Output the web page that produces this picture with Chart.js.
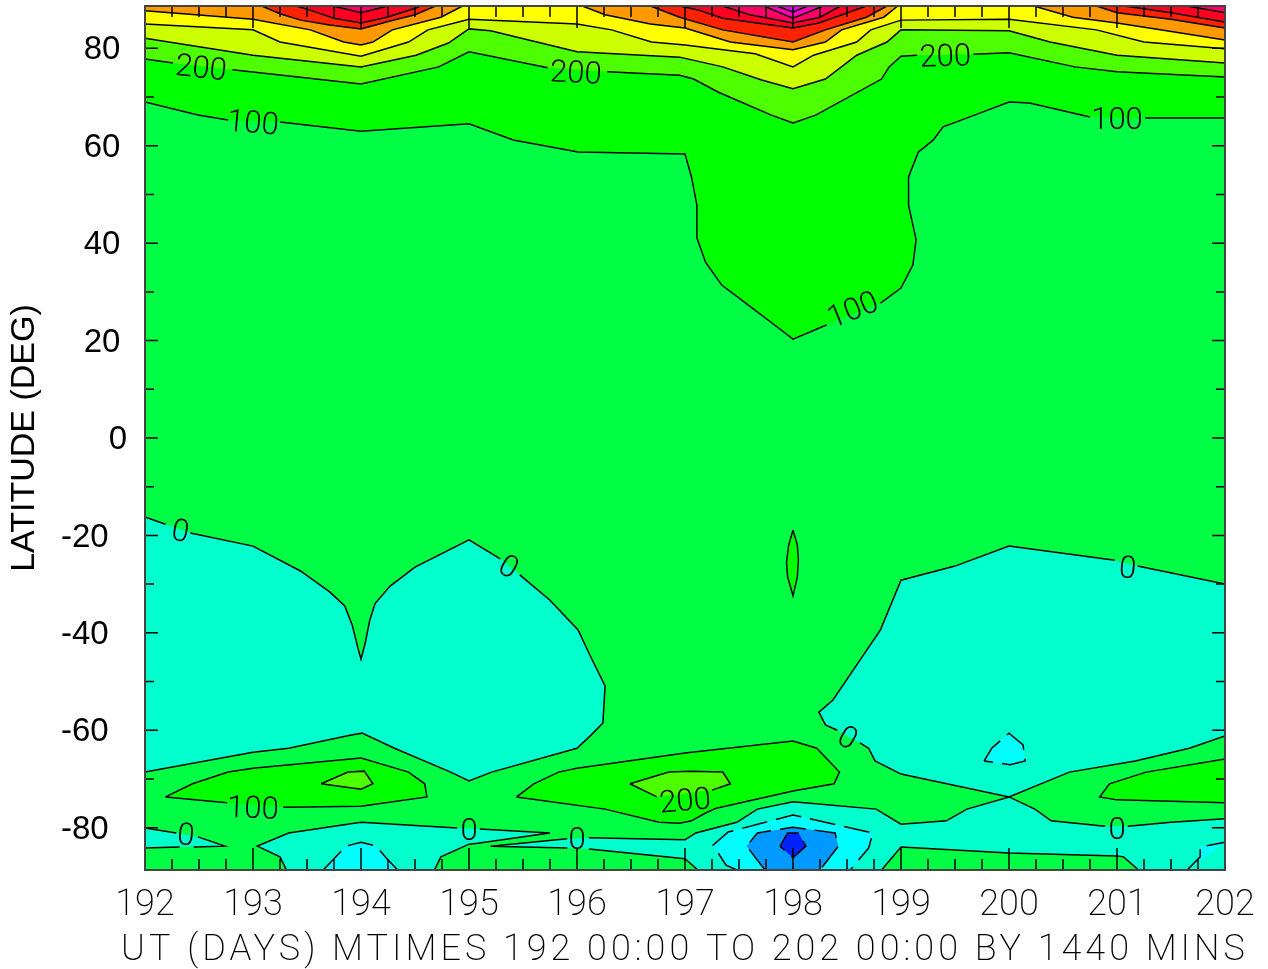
<!DOCTYPE html>
<html>
<head>
<meta charset="utf-8">
<style>
  html, body { margin: 0; padding: 0; background: #fff; }
  canvas { display: block; }
</style>
<script src="https://cdn.jsdelivr.net/npm/chart.js@4"></script>
</head>
<body>
<canvas id="chart" width="1268" height="969"></canvas>
<script>
// axis values
const dayTicks = [192, 193, 194, 195, 196, 197, 198, 199, 200, 201, 202];
const dayMinorTicks = [];
for (let i = 0; i <= 40; i++) dayMinorTicks.push(192 + i / 4);
const latTicks = [-80, -60, -40, -20, 0, 20, 40, 60, 80];
const latMinorTicks = [-70, -50, -30, -10, 10, 30, 50, 70];
const latMax = 88.7;
const xTitle = 'UT (DAYS) MTIMES 192 00:00 TO 202 00:00 BY 1440 MINS';
const yTitle = 'LATITUDE (DEG)';

// contours as [day, lat]; null = break in the line for a label
const north100 = [[192,69.0],[192.49,66.3],[192.77,65.3],null,[193.25,64.9],[194,63.0],[195,64.5],[195.41,61.2],[196.01,58.7],[197,58.3],[197.06,53.6],[197.11,47.8],[197.11,41.1],[197.19,36.1],[197.34,31.4],[197.62,26.7],[197.83,23.2],[198,20.3],[198.31,23.2],null,[198.81,27.7],[199,30.8],[199.11,35.5],[199.14,40.7],[199.07,47.8],[199.07,53.6],[199.16,58.7],[199.30,61.2],[199.39,63.9],[199.73,66.7],[200,69.0],[200.19,68.8],[200.75,65.9],null,[201.26,65.7],[202,65.7]];
const north200 = [[192,77.8],[192.26,77.0],null,[192.81,75.6],[194,72.7],[194.72,76.2],[195,79.3],[195.73,76.0],null,[196.28,75.2],[196.95,74.5],[197.08,73.7],[197.31,71.0],[197.8,66.3],[198,64.7],[198.21,66.3],[198.82,73.7],[198.89,76.2],[199,78.4],[199.15,78.6],null,[199.67,78.8],[200,79.1],[200.61,76.2],[201,75.2],[202,74.1]];
const north300 = [[192,82.1],[193,78.6],[194,76.2],[194.51,78.6],[194.81,81.1],[195,84.0],[195.2,83.6],[196,79.3],[196.95,78.2],[197.35,76.2],[197.71,73.5],[198,71.7],[198.3,73.7],[198.59,78.6],[198.87,81.3],[199,83.8],[200,83.6],[200.38,81.3],[201,78.6],[202,77.0]];
const north400 = [[192,85.0],[193,83.8],[193.25,81.3],[194,78.4],[194.44,81.3],[194.62,83.8],[195,86.0],[196,85.0],[196.32,83.8],[196.69,81.3],[197,80.7],[197.65,78.9],[198,76.2],[198.19,78.6],[198.59,81.3],[198.72,83.8],[199,85.8],[200,86.0],[200.81,83.8],[201.25,81.3],[202,79.9]];
const north500a = [[192,87.7],[193,86.0],[193.53,83.8],[193.84,81.3],[194,80.7],[194.11,81.3],[194.29,83.8],[194.74,86.4],[194.94,88.7]];
const north500b = [[196.05,88.7],[196.26,86.9],[196.68,85.0],[197,84.2],[197.42,81.3],[198,79.7],[198.3,81.3],[198.45,83.8],[198.84,86.4],[198.97,88.7]];
const north500c = [[200.23,88.7],[200.59,86.4],[201,85.2],[201.4,83.8],[202,81.7]];
const north600a = [[193.08,88.7],[193.25,87.1],[193.44,85.8],[193.71,84.8],[194,84.0],[194.27,85.6],[194.5,86.9],[194.69,88.7]];
const north600b = [[196.68,88.7],[196.95,86.4],[197.35,83.8],[198,81.3],[198.3,83.8],[198.68,86.4],[198.87,88.7]];
const north600c = [[200.81,88.7],[201,87.3],[201.5,86.0],[202,84.2]];
const north700a = [[193.4,88.7],[193.52,87.9],[193.75,86.2],[194,85.2],[194.24,86.4],[194.51,88.3],[194.55,88.7]];
const north700b = [[196.95,88.7],[197.12,87.9],[197.35,86.2],[198,84.2],[198.24,85.2],[198.68,88.7]];
const north700c = [[201.07,88.7],[201.5,87.3],[202,85.4]];
const north800a = [[193.74,88.7],[194,87.3],[194.25,88.7]];
const north800b = [[197.35,88.7],[197.6,86.9],[198,85.2],[198.25,86.4],[198.44,88.7]];
const north800c = [[201.65,88.7],[202,87.3]];
const north900 = [[197.73,88.7],[198,86.2],[198.28,88.7]];
const north1000 = [[197.85,88.7],[198,87.5],[198.14,88.7]];

const sliver100 = [[198,-18.9],[197.96,-22.0],[197.94,-25.5],[197.95,-28.5],[198,-32.4],[198.04,-28.5],[198.05,-25.0],[198.04,-22.0],[198,-18.9]];

const zeroWest = [[192,-16.2],[192.19,-17.7],null,[192.42,-19.5],[193,-22.2],[193.44,-27.3],[193.71,-31.6],[193.85,-34.5],[193.92,-38.5],[193.97,-43.0],[194,-45.4],[194.04,-42.0],[194.08,-37.5],[194.13,-34.0],[194.27,-30.4],[194.5,-26.5],[195,-20.9],[195.29,-24.8],null,[195.47,-28.1],[195.75,-33.3],[196.01,-39.4],[196.12,-44.6],[196.26,-50.9],[196.24,-58.5],[196.13,-61.0],[196,-63.7],[195.21,-68.6],[195,-70.4],[194.83,-68.6],[194.31,-63.7],[194.01,-60.6],[193.91,-61.0],[193.33,-63.7],[193,-64.5],[192,-68.6]];
const zeroEast = [[202,-30.0],[201.19,-26.3],null,[200.98,-25.1],[200,-22.2],[199.5,-26.3],[199,-29.2],[198.81,-39.4],[198.62,-45.6],[198.37,-53.8],[198.24,-56.3],[198.3,-58.9],[198.41,-60.0],null,[198.62,-62.6],[198.7,-63.7],[198.76,-66.3],[199,-69.0],[200,-73.7],[200.56,-68.6],[201.17,-66.3],[201.67,-63.7],[202,-61.2]];
const zeroEdge = [[192,-80.1],[192.29,-81.1],null,[192.49,-81.9],[192.74,-83.8],[192.45,-84.0],null,[192.32,-84.0],[192,-84.2]];
const zeroLow194 = [[193.31,-88.7],[193.25,-86.0],[193.04,-83.8],[193.33,-81.1],[194,-78.9],[194.89,-80.1],null,[195.1,-80.3],[195.75,-81.1],[195.08,-83.2],[195,-83.4],[194.74,-86.0],[194.68,-88.7]];
const zeroLowEast = [[197.12,-88.7],[197,-86.4],[196.11,-84.4],null,[195.91,-84.2],[195.2,-83.8],[195.91,-82.3],null,[196.11,-82.1],[197,-82.5],[197.1,-81.1],[197.48,-78.9],[197.67,-76.2],[198,-74.7],[198.77,-76.2],[199,-79.3],[199.42,-78.6],[199.61,-76.2],[200,-73.7],[200.24,-76.2],[200.39,-78.6],[200.89,-79.7],null,[201.1,-79.7],[201.5,-78.9],[202,-78.2]];
const zeroIsland = [[198.82,-88.7],[199,-84.0],[200,-85.2],[201,-85.8],[201.06,-86.0],[201.2,-88.7]];

const band100West = [[192.19,-73.7],[192.44,-71.0],[192.77,-68.6],[193,-67.8],[194,-65.7],[194.44,-68.6],[194.59,-71.0],[194.61,-73.7],[194,-75.6],[193.28,-75.8],null,[192.76,-74.9],[192.19,-73.7]];
const band200West = [[193.63,-71.0],[193.88,-68.6],[194.03,-68.4],[194.11,-71.0],[194,-72.1],[193.63,-71.0]];
const band100Mid = [[195.44,-73.7],[195.6,-71.0],[195.83,-68.6],[196,-67.8],[197,-64.7],[198,-62.2],[198.22,-63.7],[198.43,-68.6],[198.38,-71.0],[198,-72.5],[197.29,-76.0],[197.19,-77.0],[197.06,-78.6],[196.95,-79.1],[196.76,-78.9],[196.26,-76.2],[195.44,-73.7]];
const band200Mid = [[196.49,-71.0],[196.85,-68.6],[197.05,-68.4],[197.35,-68.6],[197.42,-71.0],[197.25,-72.3],null,[196.74,-73.7],[196.49,-71.0]];
const band100East = [[202,-65.9],[201.27,-68.6],[200.93,-71.0],[200.84,-73.7],[201,-74.3],[202,-74.9]];

const neg100At194 = [[193.65,-88.7],[193.75,-86.4],[193.86,-83.8],[194,-83.0],[194.14,-83.8],[194.24,-86.4],[194.34,-88.7]];
const neg100At200 = [[199.77,-66.3],[199.84,-63.7],[200,-60.6],[200.13,-63.0],[200.15,-66.3],[200.01,-67.1],[199.77,-66.3]];
const neg100Edge = [[201.65,-88.7],[201.77,-86.0],[201.77,-84.0],[202,-83.0]];
const neg100At198 = [[197.48,-88.7],[197.38,-87.7],[197.26,-83.6],[197.4,-80.9],[198,-77.4],[198.74,-81.1],[198.7,-84.2],[198.53,-88.7]];
const neg200At198 = [[197.74,-88.7],[197.57,-83.8],[197.67,-81.1],[198,-79.9],[198.39,-81.1],[198.42,-83.8],[198.25,-88.7]];
const neg300At198 = [[197.88,-83.8],[197.95,-81.1],[198.05,-81.1],[198.12,-83.8],[198,-86.2],[197.88,-83.8]];

// labels on the contours
const labelTexts = ['200', '200', '200', '100', '100', '100', '0', '0', '0', '0', '0', '0', '0', '0', '100', '200'];
const labelDays = [192.52, 195.99, 199.41, 193, 201, 198.55, 192.33, 195.37, 201.1, 198.51, 192.38, 195, 196, 201, 193, 197.0];
const labelLats = [76.2, 75.2, 78.6, 64.9, 65.7, 26.5, -18.9, -26.3, -26.5, -61.4, -81.3, -80.3, -82.1, -80.1, -75.8, -74.3];
const labelAngles = [6, 3, -2, 5, 0, -22, 10, 30, 5, 30, 5, 0, 0, 0, 2, -5];

const colors = {
  base: '#00ff44', neg: '#00ffcc', neg2: '#00ffff', neg3: '#0099ff', neg4: '#0022ff',
  p100: '#00ff00', p200: '#4dff00', p300: '#ccff00', p400: '#ffff00', p500: '#ff9900',
  p600: '#ff2200', p700: '#ff0022', p800: '#ff0066', p900: '#ff00bb', p1000: '#ee00ee'
};

// [points, colour, edge to close the fill along, dashed]
const layers = [
  [north100, colors.p100, latMax], [north200, colors.p200, latMax], [north300, colors.p300, latMax],
  [north400, colors.p400, latMax], [north500a, colors.p500, latMax], [north500b, colors.p500, latMax],
  [north500c, colors.p500, latMax], [north600a, colors.p600, latMax], [north600b, colors.p600, latMax],
  [north600c, colors.p600, latMax], [north700a, colors.p700, latMax], [north700b, colors.p700, latMax],
  [north700c, colors.p700, latMax], [north800a, colors.p800, latMax], [north800b, colors.p800, latMax],
  [north800c, colors.p800, latMax], [north900, colors.p900, latMax], [north1000, colors.p1000, latMax],
  [sliver100, colors.p100],
  [zeroWest, colors.neg], [zeroEast, colors.neg], [zeroEdge, colors.neg],
  [zeroLow194, colors.neg], [zeroLowEast, colors.neg, -latMax], [zeroIsland, colors.base],
  [band100West, colors.p100], [band200West, colors.p200], [band100Mid, colors.p100],
  [band200Mid, colors.p200], [band100East, colors.p100],
  [neg100At194, colors.neg2, null, true], [neg100At200, colors.neg2, null, true],
  [neg100Edge, colors.neg2, null, true], [neg100At198, colors.neg2, null, true],
  [neg200At198, colors.neg3, null, true], [neg300At198, colors.neg4, null, true]
];

const toXY = p => p ? { x: p[0], y: p[1] } : { x: null, y: null };

const fillSets = [{
  data: [[192, -latMax], [202, -latMax], [202, latMax], [192, latMax]].map(toXY),
  backgroundColor: colors.base
}];
const lineSets = [];
layers.forEach(([points, color, edge, dashed]) => {
  const outline = points.filter(Boolean);
  if (edge) {
    const first = outline[0], last = outline[outline.length - 1];
    outline.push([last[0], edge], [first[0], edge]);
  }
  fillSets.push({ data: outline.map(toXY), backgroundColor: color });
  lineSets.push({
    data: points.map(toXY),
    borderColor: '#000',
    borderWidth: 1.5,
    borderDash: dashed ? [26, 9] : [],
    fill: false
  });
});
fillSets.forEach(s => { s.fill = 'shape'; s.borderWidth = 0; s.borderColor = 'transparent'; });

// first dataset is painted last, so flip the list
const datasets = fillSets.concat(lineSets).reverse();
datasets.forEach(s => { s.showLine = true; s.pointRadius = 0; s.tension = 0; });

const framePlugin = {
  id: 'frame',
  afterDatasetsDraw(chart) {
    const { ctx, chartArea: a, scales: { x, y } } = chart;
    ctx.save();
    ctx.strokeStyle = '#000';
    ctx.lineWidth = 1.5;
    ctx.beginPath();
    dayMinorTicks.forEach(d => {
      const len = Number.isInteger(d) ? 22 : 11;
      const px = x.getPixelForValue(d);
      ctx.moveTo(px, a.top); ctx.lineTo(px, a.top + len);
      ctx.moveTo(px, a.bottom); ctx.lineTo(px, a.bottom - len);
    });
    latTicks.concat(latMinorTicks).forEach(l => {
      const len = latTicks.includes(l) ? 13 : 9;
      const py = y.getPixelForValue(l);
      ctx.moveTo(a.left, py); ctx.lineTo(a.left + len, py);
      ctx.moveTo(a.right, py); ctx.lineTo(a.right - len, py);
    });
    ctx.stroke();

    // contour labels
    ctx.fillStyle = '#000';
    ctx.textAlign = 'center';
    ctx.textBaseline = 'middle';
    ctx.font = '300 31px Roboto';
    labelTexts.forEach((t, i) => {
      ctx.save();
      ctx.translate(x.getPixelForValue(labelDays[i]), y.getPixelForValue(labelLats[i]));
      ctx.rotate(labelAngles[i] * Math.PI / 180);
      ctx.fillText(t, 0, 3);
      ctx.restore();
    });

    ctx.strokeStyle = '#444';
    ctx.lineWidth = 2;
    ctx.strokeRect(a.left, a.top, a.right - a.left, a.bottom - a.top);
    ctx.restore();
  },
  afterDraw(chart) {
    const ctx = chart.ctx;
    ctx.save();
    ctx.fillStyle = '#000';
    ctx.textAlign = 'center';
    ctx.textBaseline = 'middle';
    ctx.font = '200 36px Roboto';
    ctx.letterSpacing = '4px';
    ctx.fillText(xTitle, 685, 951);
    ctx.restore();
  }
};

new Chart(document.getElementById('chart'), {
  type: 'scatter',
  data: { datasets },
  plugins: [framePlugin],
  options: {
    responsive: false,
    animation: false,
    events: [],
    layout: { padding: { top: 6, right: 43, left: 0, bottom: 0 } },
    plugins: { legend: { display: false }, tooltip: { enabled: false } },
    scales: {
      x: {
        type: 'linear',
        min: 192,
        max: 202,
        afterBuildTicks: s => { s.ticks = dayTicks.map(value => ({ value })); },
        afterFit: s => { s.height = 99; s.paddingLeft = 0; s.paddingRight = 0; },
        grid: { display: false, drawTicks: false },
        border: { display: false },
        ticks: {
          autoSkip: false,
          maxRotation: 0,
          padding: 14,
          color: '#000',
          font: { family: 'Roboto', size: 36, weight: '200' },
          callback: v => String(v)
        }
      },
      y: {
        type: 'linear',
        min: -latMax,
        max: latMax,
        afterBuildTicks: s => { s.ticks = latTicks.map(value => ({ value })); },
        afterFit: s => { s.width = 145; s.paddingTop = 0; s.paddingBottom = 0; },
        grid: { display: false, drawTicks: false },
        border: { display: false },
        title: {
          display: true,
          text: yTitle,
          color: '#000',
          padding: { top: 4, bottom: 0 },
          font: { family: 'Liberation Sans', size: 34 }
        },
        ticks: {
          autoSkip: false,
          padding: 18,
          labelOffset: 2,
          color: '#000',
          font: { family: 'Liberation Sans', size: 33 },
          // the original's labels do not share a right edge: zero sits furthest right, negatives furthest left
          callback: v => v === 0 ? '0' : v > 0 ? v + '\u2009' : v + '  '
        }
      }
    }
  }
});
</script>
</body>
</html>
